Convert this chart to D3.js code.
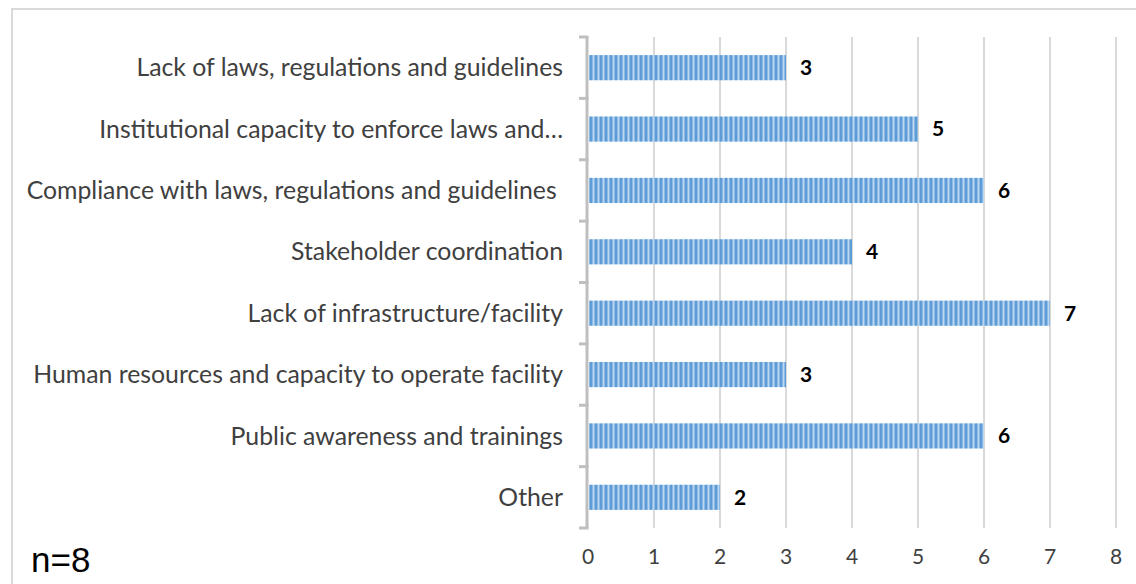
<!DOCTYPE html>
<html>
<head>
<meta charset="utf-8">
<script src="https://cdn.jsdelivr.net/npm/d3@7"></script>
<style>
  body { margin: 0; background: #fff; }
  text { font-family: Lato, sans-serif; fill: #404040; }
</style>
</head>
<body>
<svg id="chart" width="1136" height="584"></svg>
<script>
// data
let categories = [
	"Lack of laws, regulations and guidelines",
	"Institutional capacity to enforce laws and\u2026",
	"Compliance with laws, regulations and guidelines ",
	"Stakeholder coordination",
	"Lack of infrastructure/facility",
	"Human resources and capacity to operate facility",
	"Public awareness and trainings",
	"Other"
];
let counts = [3, 5, 6, 4, 7, 3, 6, 2];
let xTicks = [0, 1, 2, 3, 4, 5, 6, 7, 8];
let sampleNote = "n=8";

let width = 1136, height = 584;
let plotLeft = 588, plotRight = 1116, plotTop = 37, plotBottom = 528;

let svg = d3.select("#chart");

// outer frame (only top and left visible)
svg.append("path")
	.attr("d", "M12,584 V9 H1136")
	.attr("fill", "none")
	.attr("stroke", "#d9d9d9")
	.attr("stroke-width", 2);

// striped fill for bars
let defs = svg.append("defs");
let pat = defs.append("pattern")
	.attr("id", "stripes")
	.attr("patternUnits", "userSpaceOnUse")
	.attr("width", 5)
	.attr("height", 10);
pat.append("rect").attr("width", 5).attr("height", 10).attr("fill", "#5d9cd6");
pat.append("rect").attr("x", 2).attr("width", 1).attr("height", 10).attr("fill", "#8dbae5");
pat.append("rect").attr("x", 3).attr("width", 1).attr("height", 10).attr("fill", "#bcd7f0");
pat.append("rect").attr("x", 4).attr("width", 1).attr("height", 10).attr("fill", "#8dbae5");

let x = d3.scaleLinear()
	.domain([0, 8])
	.range([plotLeft, plotRight]);

let y = d3.scaleBand()
	.domain(categories)
	.range([plotTop, plotBottom])
	.paddingInner(0.59)
	.paddingOuter(0.295);

// vertical gridlines
svg.append("g")
	.selectAll("line")
	.data(xTicks.slice(1))
	.enter().append("line")
	.attr("x1", function(d) { return x(d); })
	.attr("x2", function(d) { return x(d); })
	.attr("y1", plotTop)
	.attr("y2", plotBottom)
	.attr("stroke", "#d9d9d9")
	.attr("stroke-width", 2);

// x tick labels
svg.append("g")
	.selectAll("text")
	.data(xTicks)
	.enter().append("text")
	.attr("x", function(d) { return x(d); })
	.attr("y", 557)
	.attr("dy", "0.35em")
	.style("text-anchor", "middle")
	.style("font-size", "21px")
	.text(function(d) { return d; });

// bars
svg.append("g")
	.selectAll("rect")
	.data(counts)
	.enter().append("rect")
	.attr("x", x(0) + 1)
	.attr("y", function(d, i) { return y(categories[i]); })
	.attr("width", function(d) { return x(d) - x(0) - 1; })
	.attr("height", y.bandwidth())
	.attr("fill", "url(#stripes)");

// value labels
svg.append("g")
	.selectAll("text")
	.data(counts)
	.enter().append("text")
	.attr("x", function(d) { return x(d) + 14; })
	.attr("y", function(d, i) { return y(categories[i]) + y.bandwidth()/2; })
	.attr("dy", "0.35em")
	.style("font-size", "21px")
	.style("font-weight", "bold")
	.style("fill", "#000")
	.text(function(d) { return d; });

// category axis: line with ticks between categories
let axisX = 587;
let step = y.step();
let bounds = d3.range(categories.length + 1).map(function(i) { return plotTop + i*step; });
svg.append("line")
	.attr("x1", axisX).attr("x2", axisX)
	.attr("y1", plotTop).attr("y2", plotBottom)
	.attr("stroke", "#bfbfbf")
	.attr("stroke-width", 3);
svg.append("g")
	.selectAll("line")
	.data(bounds)
	.enter().append("line")
	.attr("x1", axisX - 8)
	.attr("x2", axisX + 1.5)
	.attr("y1", function(d) { return d; })
	.attr("y2", function(d) { return d; })
	.attr("stroke", "#bfbfbf")
	.attr("stroke-width", 3);

// category labels
svg.append("g")
	.selectAll("text")
	.data(categories)
	.enter().append("text")
	.attr("x", 563)
	.attr("y", function(d) { return y(d) + y.bandwidth()/2; })
	.attr("dy", "0.35em")
	.style("text-anchor", "end")
	.style("white-space", "pre")
	.style("font-size", "24.8px")
	.text(function(d) { return d; });

// sample size note
svg.append("text")
	.attr("x", 31)
	.attr("y", 572)
	.style("font-family", "'Liberation Sans', Arial, sans-serif")
	.style("font-size", "35px")
	.style("fill", "#000")
	.text(sampleNote);
</script>
</body>
</html>
